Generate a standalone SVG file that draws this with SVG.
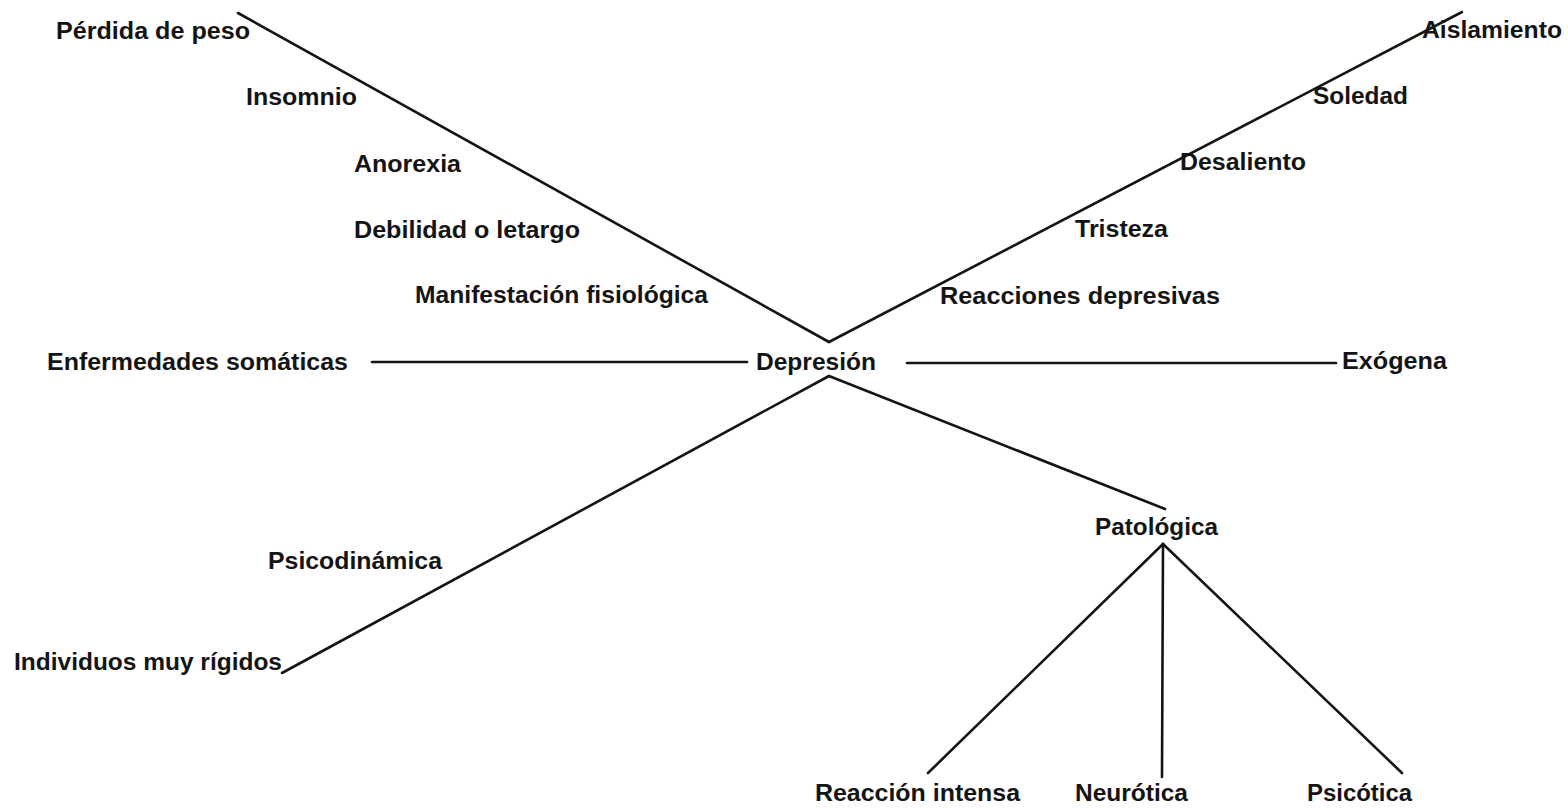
<svg xmlns="http://www.w3.org/2000/svg" width="1568" height="808" viewBox="0 0 1568 808">
<style>
.t{font-family:"Liberation Sans",Arial,sans-serif;font-size:23px;font-weight:bold;fill:#141414;}
.c line{stroke:#141414;stroke-width:2.6;stroke-linecap:round;fill:none;}
</style>
<rect width="1568" height="808" fill="#ffffff"/>
<g class="c" id="connectors">
<line x1="238" y1="13" x2="829" y2="342"/>
<line x1="1462" y1="12" x2="829" y2="342"/>
<line x1="372" y1="362" x2="747" y2="362"/>
<line x1="907" y1="363" x2="1336" y2="363"/>
<line x1="829" y1="376" x2="282" y2="673"/>
<line x1="829" y1="376" x2="1165" y2="509"/>
<line x1="1163" y1="544" x2="928" y2="773"/>
<line x1="1163" y1="544" x2="1162" y2="777"/>
<line x1="1163" y1="544" x2="1402" y2="773"/>
</g>
<g id="n-perdida"><text class="t" x="56" y="39" textLength="194" lengthAdjust="spacingAndGlyphs">Pérdida de peso</text></g>
<g id="n-insomnio"><text class="t" x="246" y="105" textLength="111" lengthAdjust="spacingAndGlyphs">Insomnio</text></g>
<g id="n-anorexia"><text class="t" x="354" y="172" textLength="107" lengthAdjust="spacingAndGlyphs">Anorexia</text></g>
<g id="n-debilidad"><text class="t" x="354" y="238" textLength="226" lengthAdjust="spacingAndGlyphs">Debilidad o letargo</text></g>
<g id="n-manifestacion"><text class="t" x="415" y="303" textLength="293" lengthAdjust="spacingAndGlyphs">Manifestación fisiológica</text></g>
<g id="n-enfermedades"><text class="t" x="47" y="370" textLength="301" lengthAdjust="spacingAndGlyphs">Enfermedades somáticas</text></g>
<g id="n-depresion"><text class="t" x="756" y="370" textLength="120" lengthAdjust="spacingAndGlyphs">Depresión</text></g>
<g id="n-exogena"><text class="t" x="1342" y="369" textLength="105" lengthAdjust="spacingAndGlyphs">Exógena</text></g>
<g id="n-aislamiento"><text class="t" x="1422" y="38" textLength="140" lengthAdjust="spacingAndGlyphs">Aislamiento</text></g>
<g id="n-soledad"><text class="t" x="1313" y="104" textLength="95" lengthAdjust="spacingAndGlyphs">Soledad</text></g>
<g id="n-desaliento"><text class="t" x="1180" y="170" textLength="126" lengthAdjust="spacingAndGlyphs">Desaliento</text></g>
<g id="n-tristeza"><text class="t" x="1075" y="237" textLength="93" lengthAdjust="spacingAndGlyphs">Tristeza</text></g>
<g id="n-reacciones"><text class="t" x="940" y="304" textLength="280" lengthAdjust="spacingAndGlyphs">Reacciones depresivas</text></g>
<g id="n-psicodinamica"><text class="t" x="268" y="569" textLength="174" lengthAdjust="spacingAndGlyphs">Psicodinámica</text></g>
<g id="n-individuos"><text class="t" x="14" y="670" textLength="268" lengthAdjust="spacingAndGlyphs">Individuos muy rígidos</text></g>
<g id="n-patologica"><text class="t" x="1095" y="535" textLength="123" lengthAdjust="spacingAndGlyphs">Patológica</text></g>
<g id="n-reaccion"><text class="t" x="815" y="801" textLength="205" lengthAdjust="spacingAndGlyphs">Reacción intensa</text></g>
<g id="n-neurotica"><text class="t" x="1075" y="801" textLength="113" lengthAdjust="spacingAndGlyphs">Neurótica</text></g>
<g id="n-psicotica"><text class="t" x="1307" y="801" textLength="105" lengthAdjust="spacingAndGlyphs">Psicótica</text></g>
</svg>
